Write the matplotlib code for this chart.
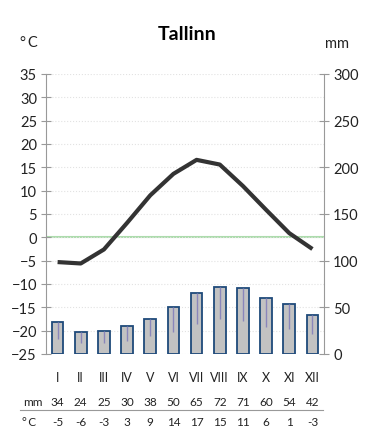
import matplotlib
matplotlib.use("Agg")
import matplotlib.pyplot as plt
import matplotlib.transforms as mtransforms

# === DATA ===
months = ["I", "II", "III", "IV", "V", "VI", "VII", "VIII", "IX", "X", "XI", "XII"]
temp = [-5.3, -5.6, -2.6, 3.1, 9.0, 13.6, 16.6, 15.6, 11.0, 5.9, 0.9, -2.5]
precip = [34, 24, 25, 30, 38, 50, 65, 72, 71, 60, 54, 42]
precip_low = [16, 12, 12, 14, 19, 24, 32, 37, 35, 29, 27, 21]
mm_labels = ["34", "24", "25", "30", "38", "50", "65", "72", "71", "60", "54", "42"]
c_labels = ["-5", "-6", "-3", "3", "9", "14", "17", "15", "11", "6", "1", "-3"]

plt.rcParams["font.family"] = ["Lato", "DejaVu Sans"]

W, H = 374, 435
fig = plt.figure(figsize=(W / 100, H / 100), dpi=100)
ax = fig.add_axes([46 / W, (H - 355) / H, 278 / W, 280 / H])
ax2 = ax.twinx()

x = list(range(1, 13))

# temperature axis
ax.set_xlim(0.5, 12.5)
ax.set_ylim(-25, 35)
ax.set_yticks(range(-25, 36, 5))
ax.grid(axis="y", color="#e2e2e2", linestyle=":", linewidth=0.8)
ax.axhline(0, color="#acdcac", linewidth=1.5, zorder=1)
ax.plot(x, temp, color="#333333", linewidth=3.0, solid_capstyle="butt", zorder=3)

# precipitation axis
ax2.set_ylim(0, 300)
ax2.set_yticks(range(0, 301, 50))
ax2.bar(x, precip, width=0.5, color="#c2c2c2", edgecolor="#1f4a7a", linewidth=1.3, zorder=2)
ax2.vlines(x, precip_low, precip, color="#8a86bb", linewidth=1.0, zorder=3)

for a in (ax, ax2):
    for s in ("top", "bottom"):
        a.spines[s].set_visible(False)
    a.spines["left"].set_color("#999999")
    a.spines["right"].set_color("#999999")
    a.tick_params(axis="y", direction="inout", length=7, width=0.8, color="#999999",
                  labelsize=10.5, labelcolor="#222222", pad=3)
ax2.spines["left"].set_visible(False)
ax.spines["right"].set_visible(False)

ax.set_xticks(x)
ax.set_xticklabels(months, fontsize=9, color="#222222")
ax.tick_params(axis="x", length=0, pad=12)

# titles and unit labels
fig.text(187 / W, 1 - 35 / H, "Tallinn", ha="center", va="center", fontsize=14, fontweight="bold")
fig.text(29 / W, 1 - 43 / H, "°\u2009C", ha="center", va="center", fontsize=10.5, color="#222222")
fig.text(337 / W, 1 - 44 / H, "mm", ha="center", va="center", fontsize=10.5, color="#222222")

# table below
trans = mtransforms.blended_transform_factory(ax.transData, ax.transAxes)
y_mm = (355 - 403) / 280
y_c = (355 - 423) / 280
for xi, m, c in zip(x, mm_labels, c_labels):
    ax.text(xi, y_mm, m, transform=trans, ha="center", va="center", fontsize=8.5, color="#222222")
    ax.text(xi, y_c, c, transform=trans, ha="center", va="center", fontsize=8.5, color="#222222")
fig.text(33 / W, 1 - 403 / H, "mm", ha="center", va="center", fontsize=8.5, color="#222222")
fig.text(29 / W, 1 - 423 / H, "°\u2009C", ha="center", va="center", fontsize=8.5, color="#222222")
fig.add_artist(plt.Line2D([20 / W, 323 / W], [1 - 411 / H, 1 - 411 / H], color="#999999", linewidth=0.8))

fig.savefig("out.png", dpi=100)
